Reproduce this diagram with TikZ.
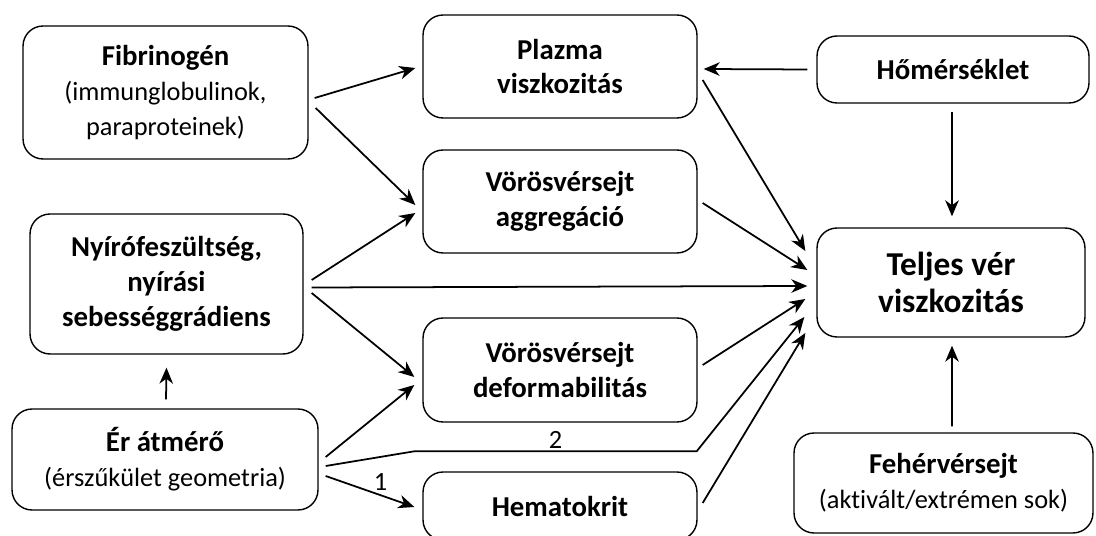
\documentclass[tikz,border=0pt]{standalone}
\usepackage{fontspec}
\setmainfont{Carlito}[Ligatures=NoCommon]
\usetikzlibrary{arrows.meta}

\begin{document}
\begin{tikzpicture}[x=0.02cm, y=-0.02cm,
  box/.style={draw, line width=0.8pt, rounded corners=0.4cm, align=center,
    inner sep=0pt, font=\fontsize{16.4}{19.8}\selectfont},
  sub/.style={font=\fontsize{15}{19.5}\selectfont},
  ->/.style={-{Stealth[length=3.2mm, width=2.7mm, inset=1mm]}, line width=1pt}]
  \useasboundingbox (0,0) rectangle (1096,536);
  \clip (0,0) rectangle (1096,536);
  \node[box, minimum width=5.70cm, minimum height=2.66cm] (a) at (165.5, 92.5) {\textbf{Fibrinogén}\\ {\fontsize{15}{19.8}\selectfont (immunglobulinok,}\\ {\fontsize{15}{19.8}\selectfont paraproteinek)}};
  \node[box, minimum width=5.48cm, minimum height=2.06cm] (b) at (560, 66.5) {\textbf{Plazma}\\ \textbf{viszkozitás}};
  \node[box, minimum width=5.48cm, minimum height=2.06cm] (c) at (560, 201.5) {\textbf{Vörösvérsejt}\\ \textbf{aggregáció}};
  \node[box, minimum width=5.44cm, minimum height=1.34cm] (d) at (953, 69.5) {\textbf{Hőmérséklet}};
  \node[box, minimum width=5.46cm, minimum height=2.80cm] (e) at (166.5, 284) {\textbf{Nyírófeszültség,}\\ \textbf{nyírási}\\ \textbf{sebességgrádiens}};
  \node[box, minimum width=5.36cm, minimum height=2.18cm, font=\fontsize{19}{21}\selectfont] (f) at (951, 282.5) {\textbf{Teljes vér}\\ \textbf{viszkozitás}};
  \node[box, minimum width=5.48cm, minimum height=2.08cm] (g) at (560, 370) {\textbf{Vörösvérsejt}\\ \textbf{deformabilitás}};
  \node[box, minimum width=6.12cm, minimum height=2.02cm] (h) at (165, 459.5) {\textbf{Ér átmérő}\\ {\fontsize{15}{19.8}\selectfont (érszűkület geometria)}};
  \node[box, minimum width=5.48cm, minimum height=1.36cm] (i) at (560, 506) {\textbf{Hematokrit}};
  \node[box, minimum width=5.98cm, minimum height=2.00cm] (j) at (943.5, 483) {\textbf{Fehérvérsejt}\\ {\fontsize{15}{19.8}\selectfont (aktivált/extrémen sok)}};
  \draw [->] ([xshift=0.12cm,yshift=-0.11cm]a.east) -- ([xshift=-0.14cm,yshift=-0.03cm]b.west);
  \draw [->] ([xshift=0.14cm,yshift=-0.31cm]a.east) -- ([xshift=-0.14cm,yshift=-0.07cm]c.west);
  \draw [->] ([xshift=-0.18cm]d.west) -- ([xshift=0.12cm,yshift=-0.05cm]b.east);
  \draw [->] ([xshift=-0.02cm,yshift=-0.17cm]d.south) -- ([xshift=0.02cm,yshift=0.22cm]f.north);
  \draw [->] ([xshift=0.10cm,yshift=-0.27cm]b.east) -- ([xshift=-0.22cm,yshift=0.63cm]f.west);
  \draw [->] ([xshift=0.10cm,yshift=-0.03cm]c.east) -- ([xshift=-0.18cm,yshift=0.25cm]f.west);
  \draw [->] ([xshift=0.16cm,yshift=0.08cm]e.east) -- ([xshift=-0.14cm,yshift=-0.23cm]c.west);
  \draw [->] ([xshift=0.16cm,yshift=-0.07cm]e.east) -- ([xshift=-0.18cm,yshift=-0.07cm]f.west);
  \draw [->] ([xshift=0.16cm,yshift=-0.18cm]e.east) -- ([xshift=-0.16cm,yshift=-0.14cm]g.west);
  \draw [->] ([xshift=0.10cm,yshift=0.10cm]g.east) -- ([xshift=-0.22cm,yshift=-0.33cm]f.west);
  \draw [->] ([xshift=0.14cm,yshift=0.05cm]h.east) -- ([xshift=-0.16cm,yshift=-0.30cm]g.west);
  \draw [->] ([xshift=0.14cm,yshift=-0.13cm]h.east) -- ([xshift=-0.16cm,yshift=0.40cm]i.north west)
    -- node[above, sub, inner sep=1pt] {2} ([xshift=-0.02cm,yshift=0.40cm]i.north east) -- ([xshift=-0.24cm,yshift=-0.69cm]f.west);
  \draw [->] ([xshift=0.14cm,yshift=-0.33cm]h.east) -- node[pos=0.62, above, sub, inner sep=2pt] {1} ([xshift=-0.16cm,yshift=-0.02cm]i.west);
  \draw [->] ([xshift=0.10cm,yshift=0.06cm]i.east) -- ([xshift=-0.22cm,yshift=-1.01cm]f.west);
  \draw [->] ([xshift=0.02cm,yshift=0.18cm]h.north) -- ([yshift=-0.26cm]e.south);
  \draw [->] ([xshift=0.17cm,yshift=0.12cm]j.north) -- ([xshift=0.02cm,yshift=-0.16cm]f.south);
\end{tikzpicture}
\end{document}
